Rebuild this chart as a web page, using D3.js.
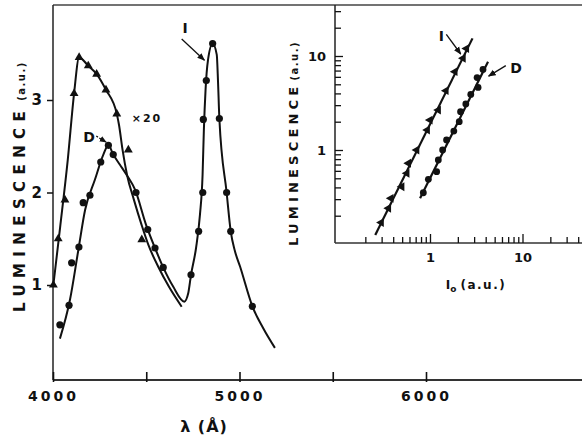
<!DOCTYPE html>
<html>
<head>
<meta charset="utf-8">
<script src="https://cdn.jsdelivr.net/npm/d3@7"></script>
<style>
  body { margin: 0; background: #fff; }
  svg { display: block; }
  text { font-family: "DejaVu Sans", sans-serif; font-weight: bold; fill: #111; }
</style>
</head>
<body>
<svg id="chart" width="582" height="438"></svg>
<script>
// ---- main panel: spectra (wavelength in Å, luminescence in a.u.)
const dLineWl  = [4037, 4091, 4136, 4172, 4225, 4270, 4297, 4323, 4359, 4395, 4440, 4499, 4547, 4591, 4645, 4704, 4725, 4740, 4767, 4788, 4802, 4809, 4818, 4831, 4856, 4878, 4885, 4892, 4931, 4953, 4975, 5003, 5069, 5128, 5190];
const dLineLum = [0.42, 0.84, 1.38, 1.81, 2.14, 2.41, 2.51, 2.41, 2.30, 2.19, 2.03, 1.65, 1.40, 1.19, 0.98, 0.82, 0.91, 1.11, 1.40, 1.76, 2.19, 2.68, 3.11, 3.43, 3.61, 3.49, 3.19, 2.80, 2.00, 1.58, 1.37, 1.20, 0.77, 0.53, 0.32];
const dDotWl   = [4037, 4086, 4100, 4139, 4162, 4198, 4256, 4297, 4323, 4445, 4508, 4547, 4591, 4740, 4781, 4803, 4806, 4822, 4856, 4892, 4931, 4953, 5069];
const dDotLum  = [0.57, 0.78, 1.24, 1.41, 1.89, 1.97, 2.33, 2.51, 2.41, 2.00, 1.60, 1.40, 1.19, 1.11, 1.58, 2.00, 2.79, 3.21, 3.61, 2.80, 2.00, 1.58, 0.77];

const x20LineWl  = [4002, 4038, 4079, 4113, 4140, 4189, 4234, 4284, 4342, 4354, 4373, 4397, 4434, 4475, 4512, 4565, 4622, 4690];
const x20LineLum = [1.00, 1.62, 2.35, 3.07, 3.46, 3.37, 3.28, 3.11, 2.85, 2.73, 2.46, 2.19, 1.92, 1.65, 1.43, 1.195, 0.98, 0.765];
const x20MarkWl  = [4002, 4028, 4064, 4113, 4140, 4189, 4234, 4284, 4342, 4404, 4476];
const x20MarkLum = [1.00, 1.50, 1.92, 3.07, 3.46, 3.37, 3.28, 3.11, 2.85, 2.46, 1.49];

const mainXTicks  = [4000, 4500, 5000, 5500, 6000];
const mainXLabels = [4000, 5000, 6000];
const mainYTicks  = [1, 2, 3];

// ---- inset: luminescence vs excitation intensity (log-log)
const iIo  = [0.297, 0.356, 0.378, 0.496, 0.562, 0.585, 0.719, 0.936, 1.0, 1.23, 1.49, 1.86, 2.28, 2.48];
const iLum = [0.169, 0.24, 0.306, 0.407, 0.565, 0.722, 1.0, 1.63, 2.08, 2.66, 4.28, 6.81, 9.46, 12.0];
const dIo  = [0.847, 0.96, 1.18, 1.23, 1.37, 1.51, 1.81, 2.07, 2.14, 2.44, 2.76, 3.31, 3.23, 3.74];
const dLum = [0.351, 0.488, 0.588, 0.783, 1.0, 1.28, 1.59, 2.0, 2.56, 3.09, 3.9, 4.63, 5.9, 7.2];
const iFitIo  = [0.256, 2.88];
const iFitLum = [0.125, 15.4];
const dFitIo  = [0.781, 4.24];
const dFitLum = [0.306, 8.7];

const inXTicks = [0.2, 0.3, 0.4, 0.5, 0.6, 0.7, 0.8, 0.9, 1, 2, 3, 4, 5, 6, 7, 8, 9, 10, 20, 30, 40];
const inYTicks = [0.2, 0.3, 0.4, 0.5, 0.6, 0.7, 0.8, 0.9, 1, 2, 3, 4, 5, 6, 7, 8, 9, 10, 20, 30];
const inLabels = [1, 10];

const zip = (a, b) => a.map((v, i) => [v, b[i]]);

const svg = d3.select("#chart");
const frameTop = 5, frameRight = 582;

svg.append("defs").append("marker")
    .attr("id", "ah")
    .attr("viewBox", "0 0 10 10")
    .attr("refX", 9).attr("refY", 5)
    .attr("markerWidth", 6).attr("markerHeight", 6)
    .attr("orient", "auto")
  .append("path")
    .attr("d", "M0,1 L10,5 L0,9 z")
    .attr("fill", "#111");

// top frame line
svg.append("line")
    .attr("x1", 53).attr("x2", frameRight).attr("y1", frameTop).attr("y2", frameTop)
    .attr("stroke", "#444").attr("stroke-width", 1.3);

// ================= main panel
const mainLeft = 53, mainBottom = 380;
const x = d3.scaleLinear().domain([4000, 6000]).range([53, 426]);
const y = d3.scaleLinear().domain([1, 3]).range([285, 100]);

svg.append("line")
    .attr("x1", mainLeft).attr("x2", mainLeft).attr("y1", frameTop).attr("y2", mainBottom)
    .attr("stroke", "#222").attr("stroke-width", 1.5);
svg.append("line")
    .attr("x1", mainLeft).attr("x2", frameRight).attr("y1", mainBottom).attr("y2", mainBottom)
    .attr("stroke", "#333").attr("stroke-width", 1.8);

svg.append("g")
    .attr("transform", "translate(0," + mainBottom + ")")
    .call(d3.axisBottom(x).tickValues(mainXTicks).tickSize(-8).tickSizeOuter(0).tickPadding(11)
        .tickFormat(d => mainXLabels.includes(d) ? d : ""))
    .call(g => g.select(".domain").remove())
    .call(g => g.selectAll("line").attr("stroke", "#111").attr("stroke-width", 1.6).attr("y1", 2))
    .call(g => g.selectAll("text").attr("font-size", 14).attr("letter-spacing", 3)
        .attr("font-family", "DejaVu Sans").attr("font-weight", "bold").attr("fill", "#111"));

svg.append("g")
    .attr("transform", "translate(" + mainLeft + ",0)")
    .call(d3.axisLeft(y).tickValues(mainYTicks).tickSize(6).tickPadding(5).tickFormat(d3.format("d")))
    .call(g => g.select(".domain").remove())
    .call(g => g.selectAll("line").attr("stroke", "#111").attr("stroke-width", 1.5))
    .call(g => g.selectAll("text").attr("font-size", 15)
        .attr("font-family", "DejaVu Sans").attr("font-weight", "bold").attr("fill", "#111"));

const line = d3.line()
    .x(d => x(d[0]))
    .y(d => y(d[1]))
    .curve(d3.curveMonotoneX);

svg.append("path")
    .attr("d", line(zip(dLineWl, dLineLum)))
    .attr("fill", "none").attr("stroke", "#111").attr("stroke-width", 2);
svg.append("path")
    .attr("d", line(zip(x20LineWl, x20LineLum)))
    .attr("fill", "none").attr("stroke", "#111").attr("stroke-width", 2);

svg.selectAll("circle.dmain")
    .data(zip(dDotWl, dDotLum))
    .enter().append("circle")
    .attr("class", "dmain")
    .attr("cx", d => x(d[0]))
    .attr("cy", d => y(d[1]))
    .attr("r", 3.6)
    .attr("fill", "#111");

const tri = d3.symbol().type(d3.symbolTriangle).size(34);
svg.selectAll("path.tmain")
    .data(zip(x20MarkWl, x20MarkLum))
    .enter().append("path")
    .attr("class", "tmain")
    .attr("d", tri)
    .attr("transform", d => "translate(" + x(d[0]) + "," + y(d[1]) + ")")
    .attr("fill", "#111");

// annotations
svg.append("text")
    .attr("x", x(4708)).attr("y", y(3.72))
    .attr("text-anchor", "middle").attr("font-size", 14).text("I");
svg.append("line")
    .attr("x1", x(4690)).attr("y1", y(3.66)).attr("x2", x(4812)).attr("y2", y(3.43))
    .attr("stroke", "#111").attr("stroke-width", 1.3).attr("marker-end", "url(#ah)");

svg.append("text")
    .attr("x", x(4193)).attr("y", y(2.55))
    .attr("text-anchor", "middle").attr("font-size", 14).text("D");
svg.append("line")
    .attr("x1", x(4232)).attr("y1", y(2.61)).attr("x2", x(4285)).attr("y2", y(2.545))
    .attr("stroke", "#111").attr("stroke-width", 1.2).attr("stroke-dasharray", "2,1.5")
    .attr("marker-end", "url(#ah)");

svg.append("text")
    .attr("x", x(4504)).attr("y", y(2.76))
    .attr("text-anchor", "middle").attr("font-size", 11).attr("letter-spacing", 2).text("×20");

// axis titles
svg.append("text")
    .attr("transform", "translate(25,312) rotate(-90)")
    .attr("font-size", 15).attr("letter-spacing", 6.4)
    .text("LUMINESCENCE")
  .append("tspan")
    .attr("font-size", 10).attr("letter-spacing", 1.5).attr("dx", 4)
    .text("(a.u.)");

svg.append("text")
    .attr("x", 204).attr("y", 432)
    .attr("text-anchor", "middle").attr("font-size", 16).attr("letter-spacing", 1)
    .text("λ (Å)");

// ================= inset
const inLeft = 335, inBottom = 243;
const xi = d3.scaleLog().domain([1, 10]).range([430, 522.5]);
const yi = d3.scaleLog().domain([1, 10]).range([150, 56]);

svg.append("line")
    .attr("x1", inLeft).attr("x2", inLeft).attr("y1", frameTop).attr("y2", inBottom)
    .attr("stroke", "#222").attr("stroke-width", 1.5);
svg.append("line")
    .attr("x1", inLeft).attr("x2", frameRight).attr("y1", inBottom).attr("y2", inBottom)
    .attr("stroke", "#333").attr("stroke-width", 1.5);

svg.append("g")
    .attr("transform", "translate(0," + inBottom + ")")
    .call(d3.axisBottom(xi).tickValues(inXTicks).tickSize(-6).tickSizeOuter(0).tickPadding(10)
        .tickFormat(d => inLabels.includes(d) ? d : ""))
    .call(g => g.select(".domain").remove())
    .call(g => g.selectAll("line").attr("stroke", "#111").attr("stroke-width", 1.3)
        .attr("y2", d => inLabels.includes(d) ? -9 : -6))
    .call(g => g.selectAll("text").attr("font-size", 13)
        .attr("font-family", "DejaVu Sans").attr("font-weight", "bold").attr("fill", "#111"));

svg.append("g")
    .attr("transform", "translate(" + inLeft + ",0)")
    .call(d3.axisLeft(yi).tickValues(inYTicks).tickSize(-6).tickSizeOuter(0).tickPadding(9)
        .tickFormat(d => inLabels.includes(d) ? d : ""))
    .call(g => g.select(".domain").remove())
    .call(g => g.selectAll("line").attr("stroke", "#111").attr("stroke-width", 1.3)
        .attr("x2", d => inLabels.includes(d) ? 8 : 6))
    .call(g => g.selectAll("text").attr("font-size", 13)
        .attr("font-family", "DejaVu Sans").attr("font-weight", "bold").attr("fill", "#111"));

const lineIn = d3.line().x(d => xi(d[0])).y(d => yi(d[1]));

svg.append("path")
    .attr("d", lineIn(zip(iFitIo, iFitLum)))
    .attr("fill", "none").attr("stroke", "#111").attr("stroke-width", 2.2);
svg.append("path")
    .attr("d", lineIn(zip(dFitIo, dFitLum)))
    .attr("fill", "none").attr("stroke", "#111").attr("stroke-width", 2.2);

svg.selectAll("circle.din")
    .data(zip(dIo, dLum))
    .enter().append("circle")
    .attr("class", "din")
    .attr("cx", d => xi(d[0]))
    .attr("cy", d => yi(d[1]))
    .attr("r", 3.4)
    .attr("fill", "#111");

svg.selectAll("path.tin")
    .data(zip(iIo, iLum))
    .enter().append("path")
    .attr("class", "tin")
    .attr("d", tri)
    .attr("transform", d => "translate(" + xi(d[0]) + "," + yi(d[1]) + ") rotate(-90)")
    .attr("fill", "#111");

svg.append("text")
    .attr("x", xi(1.33)).attr("y", yi(14.5))
    .attr("text-anchor", "middle").attr("font-size", 14).text("I");
svg.append("line")
    .attr("x1", xi(1.5)).attr("y1", yi(17)).attr("x2", xi(2.15)).attr("y2", yi(10.5))
    .attr("stroke", "#111").attr("stroke-width", 1.3).attr("marker-end", "url(#ah)");

svg.append("text")
    .attr("x", xi(8.5)).attr("y", yi(6.6))
    .attr("text-anchor", "middle").attr("font-size", 14).text("D");
svg.append("line")
    .attr("x1", xi(6.6)).attr("y1", yi(7.9)).attr("x2", xi(4.3)).attr("y2", yi(6.1))
    .attr("stroke", "#111").attr("stroke-width", 1.3).attr("marker-end", "url(#ah)");

svg.append("text")
    .attr("transform", "translate(298,246) rotate(-90)")
    .attr("font-size", 13).attr("letter-spacing", 4.2)
    .text("LUMINESCENCE")
  .append("tspan")
    .attr("font-size", 10).attr("letter-spacing", 1.5).attr("dx", 2)
    .text("(a.u.)");

const ioLabel = svg.append("text")
    .attr("x", 476).attr("y", 289)
    .attr("text-anchor", "middle").attr("font-size", 12);
ioLabel.append("tspan").text("I");
ioLabel.append("tspan").attr("font-size", 9).attr("dy", 3).text("o");
ioLabel.append("tspan").attr("dy", -3).attr("dx", 4).attr("letter-spacing", 1.5).text("(a.u.)");
</script>
</body>
</html>
